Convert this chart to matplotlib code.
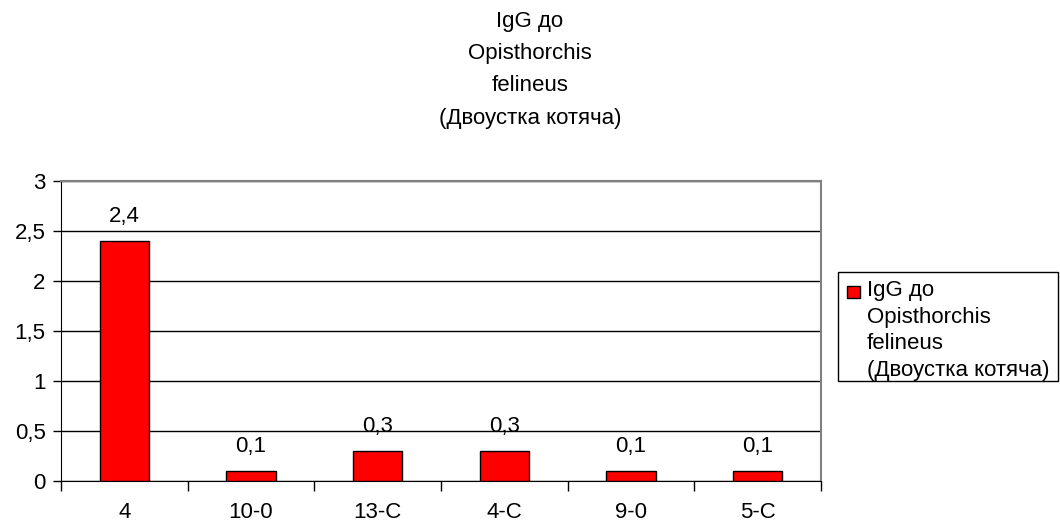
import matplotlib
matplotlib.use("Agg")
import matplotlib.pyplot as plt
from matplotlib.patches import Rectangle
from matplotlib.ticker import FixedLocator, NullFormatter, FuncFormatter

plt.rcParams['font.family'] = ['Liberation Sans', 'DejaVu Sans']

categories = ["4", "10-0", "13-C", "4-C", "9-0", "5-C"]
values = [2.4, 0.1, 0.3, 0.3, 0.1, 0.1]
value_labels = ["2,4", "0,1", "0,3", "0,3", "0,1", "0,1"]
y_ticks = [0, 0.5, 1, 1.5, 2, 2.5, 3]
title = "IgG до\nOpisthorchis\nfelineus\n(Двоустка котяча)"

FS = 16
BAR_COLOR = "#ff0000"
W, H = 1060, 523


def fx(px):
    return px / W


def fy(py):
    return 1 - py / H


fig = plt.figure(figsize=(W / 100, H / 100), dpi=100)
ax = fig.add_axes([fx(61), fy(481), 760 / W, 300 / H])

x = list(range(len(categories)))
ax.bar(x, values, width=0.39, color=BAR_COLOR, edgecolor="black",
       linewidth=1.0, zorder=3)

for xi, v, lab in zip(x, values, value_labels):
    ax.annotate(lab, (xi, v), xytext=(0, 10), textcoords="offset points",
                ha="center", va="bottom", fontsize=FS)

ax.set_xlim(-0.5, len(categories) - 0.5)
ax.set_ylim(0, 3)
ax.set_yticks(y_ticks)
ax.yaxis.set_major_formatter(FuncFormatter(lambda v, p: f"{v:g}".replace(".", ",")))
ax.yaxis.grid(True, color="black", linewidth=1.0, zorder=0)
ax.tick_params(axis="y", labelsize=FS, length=6, width=1, pad=5)

ax.set_xticks(x)
ax.set_xticklabels(categories, fontsize=FS)
ax.tick_params(axis="x", length=0, pad=15)
ax.xaxis.set_minor_locator(FixedLocator([i + 0.5 for i in range(-1, len(categories))]))
ax.xaxis.set_minor_formatter(NullFormatter())
ax.tick_params(axis="x", which="minor", length=7, width=1, direction="out")

for side in ("top", "right"):
    ax.spines[side].set_color("#808080")
    ax.spines[side].set_linewidth(1.5)
ax.spines["left"].set_color("black")
ax.spines["bottom"].set_color("black")

# Chart title
fig.text(fx(530), fy(11), title, ha="center", va="top",
         fontsize=FS, linespacing=1.70)

# Legend: framed box with a red key square and the series name
fig.patches.append(Rectangle((fx(838), fy(381)), (1058 - 838) / W, (381 - 272) / H,
                             transform=fig.transFigure, facecolor="white",
                             edgecolor="black", linewidth=1.0))
fig.patches.append(Rectangle((fx(847), fy(298)), 13 / W, 12 / H,
                             transform=fig.transFigure, facecolor=BAR_COLOR,
                             edgecolor="black", linewidth=1.0))
fig.text(fx(867), fy(280), title, ha="left", va="top",
         fontsize=FS, linespacing=1.35)

fig.savefig("out.png", dpi=100, facecolor="white")
